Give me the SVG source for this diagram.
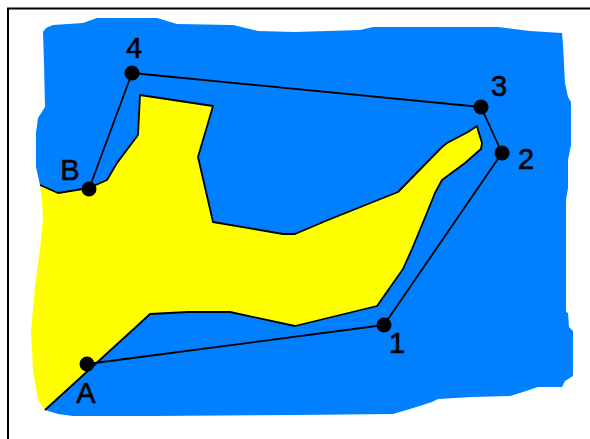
<svg xmlns="http://www.w3.org/2000/svg" width="590" height="439" viewBox="0 0 590 439">
<style>
.l{fill:none;stroke:#000;stroke-width:1.800;stroke-linejoin:round}
.d{fill:#000}
.t{font-family:"Liberation Sans",Arial,sans-serif;font-size:29px;fill:#000;stroke:#000;stroke-width:.6;text-anchor:middle}
</style>
<rect width="590" height="439" fill="#fff"/>
<path d="M8 439V8.500H590" fill="none" stroke="#000" stroke-width="2"/>
<polygon id="water" fill="#007fff" points="43,32 46,28 53,25 83,23 97,18 157,18 177,24 233,25 258,31 295,32 360,30 373,27 498,27 530,31 562,33 563,45 565,83 568,97 571,102 571,145 568,160 568,188 566,200 566,312 568,313 569,327 573,331 573,376 565,381 562,387 538,387 523,392 510,396 472,397 438,399 432,402 410,409 393,414 295,415 153,416 73,416 58,414 45,410 60,300 50,192 40,185 36,167 36,133 38,118 45,107 44,63"/>
<polygon id="land" fill="#ff0" points="40,185 58,193 89,188 107,180 117,163 138,135 140,95 213,106 198,157 213,222 283,234 295,234 328,220 398,192 442,147 447,143 468,132 477,126 478,130 482,143 481,149 465,163 442,180 435,193 424,220 412,249 403,269 377,306 295,326 230,312 188,312 150,314 137,326 45,410 38,400 33,370 31,330 35,286 40,249 43,219 42,200"/>
<g id="coast">
<polyline class="l" points="40,185 58,193 89,188 107,180 117,163 138,135 140,95 213,106 198,157 213,222 283,234 295,234 328,220 398,192 442,147 447,143 468,132 477,126 478,130 482,143 481,149 465,163 442,180 435,193 424,220 412,249 403,269 377,306 295,326 230,312 188,312 150,314 137,326 45,410"/>
</g>
<g id="connectors">
<polyline class="l" points="87,364 384,325 502,153 481,107 132,73 89,189"/>
</g>
<g id="node-A"><circle class="d" cx="87" cy="364" r="7.500"/><text class="t" x="86" y="403">A</text></g>
<g id="node-B"><circle class="d" cx="89" cy="189" r="7.500"/><text class="t" x="70" y="180">B</text></g>
<g id="node-1"><circle class="d" cx="384" cy="325" r="7.500"/><text class="t" x="397" y="353">1</text></g>
<g id="node-2"><circle class="d" cx="502" cy="153" r="7.500"/><text class="t" x="526" y="169">2</text></g>
<g id="node-3"><circle class="d" cx="481" cy="107" r="7.500"/><text class="t" x="499" y="96">3</text></g>
<g id="node-4"><circle class="d" cx="132" cy="73" r="7.500"/><text class="t" x="134" y="58">4</text></g>
</svg>
